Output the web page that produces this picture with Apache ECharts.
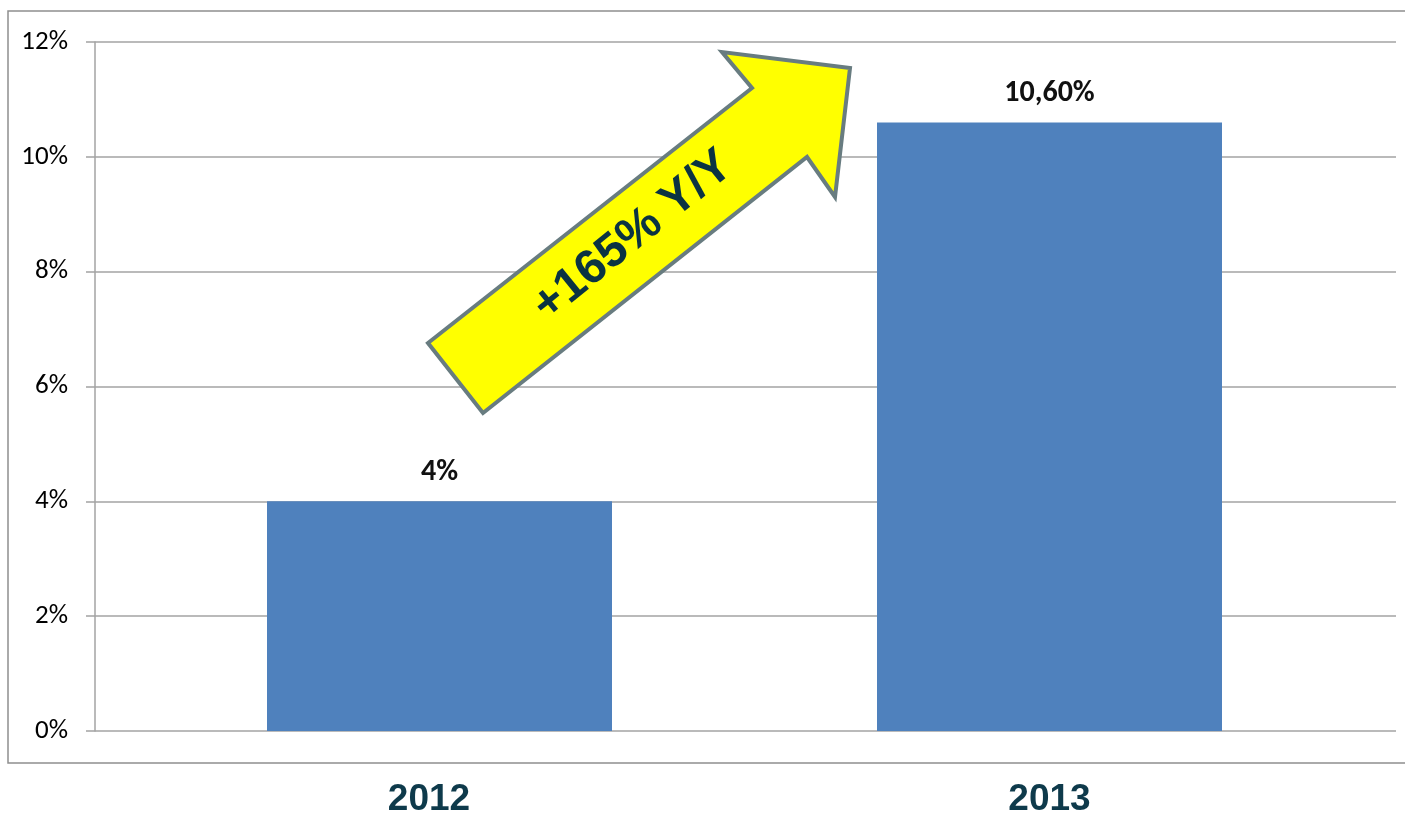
<!DOCTYPE html>
<html>
<head>
<meta charset="utf-8">
<title>Y/Y growth 2012–2013</title>
<script src="https://cdn.jsdelivr.net/npm/echarts@6/dist/echarts.min.js"></script>
<style>
  html, body { margin: 0; padding: 0; background: #ffffff; }
  #chart { width: 1405px; height: 814px; }
</style>
</head>
<body>
<div id="chart"></div>
<script>
// Chart data
const categories = ['2012', '2013'];
const shareValues = [4, 10.6];
const valueLabels = ['4%', '10,60%'];
const yTicks = [0, 2, 4, 6, 8, 10, 12];
const growthText = '+165% Y/Y';

const chart = echarts.init(document.getElementById('chart'));

const gridLine = '#a3a3a3';
const labelFont = 'Calibri, Carlito, Lato, "Open Sans", sans-serif';

const option = {
  backgroundColor: '#ffffff',
  animation: false,
  grid: [
    // frame grid: y axis, ticks and horizontal gridlines
    { left: 95, right: 9, top: 42, bottom: 83, outerBoundsMode: 'none', containLabel: false },
    // bar grid: same vertical extent, narrower so bars sit where they belong
    { left: 134.5, right: 50.5, top: 42, bottom: 83, outerBoundsMode: 'none', containLabel: false }
  ],
  xAxis: [
    {
      gridIndex: 0, type: 'value', min: 0, max: 1,
      show: false
    },
    {
      gridIndex: 1, type: 'category', data: categories,
      axisLine: { show: false }, axisTick: { show: false },
      splitLine: { show: false },
      axisLabel: {
        margin: 50,
        formatter: (v, i) => (i === 0 ? '{a|' + v + '}' : '{b|' + v + '}'),
        rich: {
          a: { fontFamily: 'Arial, "Liberation Sans", sans-serif', fontWeight: 'bold', fontSize: 37, color: '#0e3a4b', padding: [0, 21, 0, 0] },
          b: { fontFamily: 'Arial, "Liberation Sans", sans-serif', fontWeight: 'bold', fontSize: 37, color: '#0e3a4b' }
        }
      }
    }
  ],
  yAxis: [
    {
      gridIndex: 0, type: 'value', min: yTicks[0], max: yTicks[yTicks.length - 1], interval: 2,
      axisLine: { show: true, lineStyle: { color: gridLine, width: 1.5 } },
      axisTick: { show: true, length: 9, inside: false, lineStyle: { color: gridLine, width: 1.5 } },
      splitLine: { show: true, lineStyle: { color: gridLine, width: 1.5 } },
      axisLabel: {
        margin: 27, fontFamily: labelFont, fontSize: 27, color: '#000000',
        formatter: v => v + '%'
      }
    },
    {
      gridIndex: 1, type: 'value', min: yTicks[0], max: yTicks[yTicks.length - 1], interval: 2,
      show: false
    }
  ],
  series: [
    {
      type: 'bar',
      xAxisIndex: 1, yAxisIndex: 1,
      data: shareValues,
      barWidth: 345,
      itemStyle: { color: '#4f81bd' },
      label: {
        show: true, position: 'top', distance: 14,
        fontFamily: labelFont, fontSize: 30, fontWeight: 'bold', color: '#111111',
        formatter: p => valueLabels[p.dataIndex]
      }
    }
  ],
  graphic: [
    // outer frame around the plot
    {
      type: 'rect', z: -1, silent: true,
      shape: { x: 8, y: 11, width: 1440, height: 752 },
      style: { fill: 'none', stroke: '#8f8f8f', lineWidth: 1.5 }
    },
    // growth arrow
    {
      type: 'polygon', z: 10, silent: true,
      shape: { points: [[428, 343], [752, 88], [722, 52], [850, 68], [835, 197], [807, 157], [483, 413]] },
      style: { fill: '#ffff00', stroke: '#687c80', lineWidth: 4, lineJoin: 'miter' }
    },
    {
      type: 'text', z: 11, silent: true,
      x: 633, y: 236,
      rotation: 39 * Math.PI / 180,
      style: {
        text: growthText,
        fontFamily: 'Arial, "Liberation Sans", sans-serif',
        fontWeight: 'bold', fontSize: 48,
        fill: '#0b3342',
        align: 'center', verticalAlign: 'middle'
      }
    }
  ]
};

chart.setOption(option);
</script>
</body>
</html>
